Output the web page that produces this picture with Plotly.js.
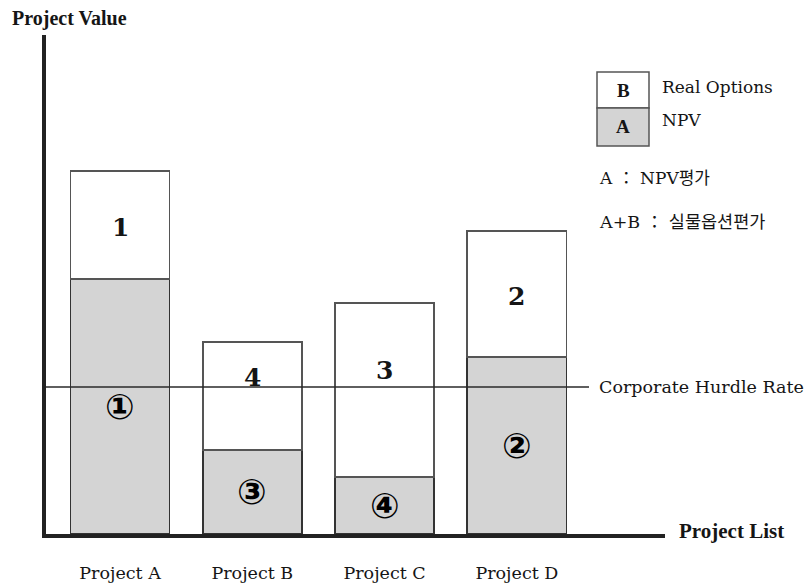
<!DOCTYPE html>
<html>
<head>
<meta charset="utf-8">
<script src="https://cdn.plot.ly/plotly-3.0.1.min.js"></script>
<style>
  html, body { margin: 0; padding: 0; background: #fff; }
  #chart { width: 805px; height: 585px; }
</style>
</head>
<body>
<div id="chart"></div>
<script>
// Project values: NPV (A) plus the real-option premium (B) stacked on top
const projects = ['Project A', 'Project B', 'Project C', 'Project D'];
const npv = [85, 28, 19, 59];
const realOptions = [36, 36, 58, 42];
const hurdleRate = 49;
const optionRank = ['1', '4', '3', '2'];
const npvRank = ['①', '③', '④', '②'];

// Vertical nudge (px) for the option-rank labels so they clear the hurdle line
const optionLabelShift = [-2, 19, 20, -2];

const W = 805, H = 585;
const M = { l: 46, r: 140, t: 35, b: 51 };
const plotW = W - M.l - M.r, plotH = H - M.t - M.b;
const px = x => (x - M.l) / plotW;          // page x -> paper x
const py = y => (H - M.b - y) / plotH;      // page y -> paper y

const serif = 'DejaVu Serif, Noto Sans CJK KR, serif';
const boldSerif = 'Liberation Serif, DejaVu Serif, serif';
const ink = '#151515';

const traces = [
  {
    type: 'bar', x: projects, y: npv, name: 'NPV',
    marker: { color: '#d4d4d4', line: { color: '#333333', width: 1.6 } },
    width: 0.75, hoverinfo: 'skip'
  },
  {
    type: 'bar', x: projects, y: realOptions, name: 'Real Options',
    marker: { color: '#ffffff', line: { color: '#555555', width: 1.6 } },
    width: 0.75, hoverinfo: 'skip'
  }
];

const annotations = [];
projects.forEach((p, i) => {
  annotations.push({
    x: p, y: npv[i] + realOptions[i] / 2, xref: 'x', yref: 'y',
    xanchor: 'center', yanchor: 'middle',
    text: '<b>' + optionRank[i] + '</b>', showarrow: false, yshift: optionLabelShift[i],
    font: { family: 'DejaVu Serif', size: 25, color: ink }
  });
  annotations.push({
    x: p, y: npv[i] / 2, xref: 'x', yref: 'y',
    xanchor: 'center', yanchor: 'middle',
    text: '<b>' + npvRank[i] + '</b>', showarrow: false, yshift: 0,
    font: { family: 'DejaVu Sans, Noto Sans CJK KR', size: 35, color: '#000', weight: 900 }
  });
});

// hurdle-rate caption
annotations.push({
  x: px(597), y: hurdleRate, xref: 'paper', yref: 'y', xanchor: 'left', yanchor: 'middle',
  text: 'Corporate Hurdle Rate', showarrow: false,
  font: { family: serif, size: 17.5, color: ink }
});

// axis captions
annotations.push({
  x: px(10), y: py(18), xref: 'paper', yref: 'paper', xanchor: 'left', yanchor: 'middle',
  text: '<b>Project Value</b>', showarrow: false,
  font: { family: boldSerif, size: 20, color: ink }
});
annotations.push({
  x: px(677), y: py(531), xref: 'paper', yref: 'paper', xanchor: 'left', yanchor: 'middle',
  text: '<b>Project List</b>', showarrow: false,
  font: { family: boldSerif, size: 21, color: ink }
});

// key box
const key = [
  { letter: 'B', label: 'Real Options', fill: '#ffffff', top: 72, bottom: 108, ty: 87 },
  { letter: 'A', label: 'NPV', fill: '#d4d4d4', top: 108, bottom: 146, ty: 120 }
];
const shapes = [];
key.forEach(k => {
  shapes.push({
    type: 'rect', xref: 'paper', yref: 'paper',
    x0: px(597), x1: px(649), y0: py(k.bottom), y1: py(k.top),
    fillcolor: k.fill, line: { color: '#555', width: 1.5 }
  });
  annotations.push({
    x: px(623), y: py((k.top + k.bottom) / 2), xref: 'paper', yref: 'paper',
    xanchor: 'center', yanchor: 'middle',
    text: '<b>' + k.letter + '</b>', showarrow: false,
    font: { family: boldSerif, size: 19, color: ink }
  });
  annotations.push({
    x: px(660), y: py(k.ty), xref: 'paper', yref: 'paper', xanchor: 'left', yanchor: 'middle',
    text: k.label, showarrow: false,
    font: { family: serif, size: 17, color: ink }
  });
});
annotations.push({
  x: px(597), y: py(178), xref: 'paper', yref: 'paper', xanchor: 'left', yanchor: 'middle',
  text: 'A ： NPV평가', showarrow: false,
  font: { family: serif, size: 17, color: ink }
});
annotations.push({
  x: px(597), y: py(222), xref: 'paper', yref: 'paper', xanchor: 'left', yanchor: 'middle',
  text: 'A+B ： 실물옵션편가', showarrow: false,
  font: { family: serif, size: 17.5, color: ink }
});

// hurdle line across the chart
shapes.push({
  type: 'line', xref: 'paper', yref: 'y',
  x0: 0, x1: px(589), y0: hurdleRate, y1: hurdleRate,
  line: { color: '#2a2a2a', width: 1.3 }, layer: 'above'
});

const layout = {
  width: W, height: H,
  margin: M,
  paper_bgcolor: '#fff', plot_bgcolor: '#fff',
  barmode: 'stack',
  showlegend: false,
  xaxis: {
    type: 'category', range: [-0.56, 4.12],
    showgrid: false, zeroline: false,
    showline: true, linecolor: '#222', linewidth: 4,
    ticks: 'outside', ticklen: 20, tickcolor: 'rgba(0,0,0,0)',
    tickfont: { family: serif, size: 17.5, color: ink }
  },
  yaxis: {
    range: [0, plotH / 3],
    showgrid: false, zeroline: false, showticklabels: false, ticks: '',
    showline: true, linecolor: '#222', linewidth: 4
  },
  shapes: shapes,
  annotations: annotations
};

Plotly.newPlot('chart', traces, layout, { displayModeBar: false, staticPlot: true });
</script>
</body>
</html>
